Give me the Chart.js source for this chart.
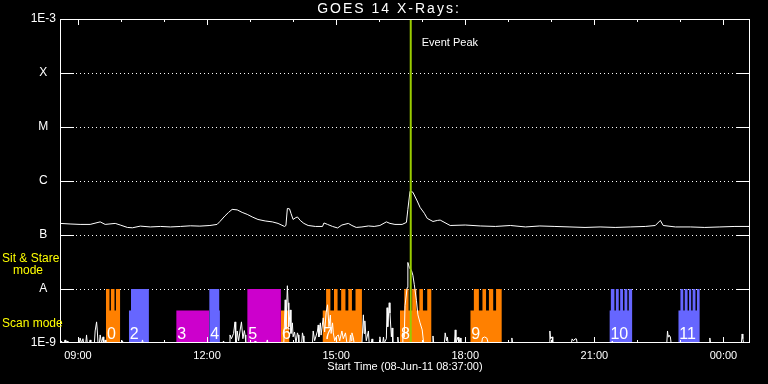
<!DOCTYPE html>
<html>
<head>
<meta charset="utf-8">
<script src="https://cdn.jsdelivr.net/npm/chart.js@4.4.1/dist/chart.umd.min.js"></script>
<style>
  html, body { margin: 0; padding: 0; background: #000; }
  canvas { display: block; }
</style>
</head>
<body>
<canvas id="goes" width="768" height="384"></canvas>
<script>
// GOES 14 X-ray flux with observing mode blocks
const startTime = '08:35';
const endTime = '24:37';
const hourTicks = [9, 12, 15, 18, 21, 24];
const decadeTicks = [1e-9, 1e-8, 1e-7, 1e-6, 1e-5, 1e-4, 1e-3];
const decadeNames = ['1E-9', 'A', 'B', 'C', 'M', 'X', '1E-3'];
const peakTime = '16:44';

// long channel flux (W/m^2)
const fluxTrace = [
  ['08:35', 1.64e-7], ['08:49', 1.6e-7], ['09:03', 1.57e-7], ['09:17', 1.57e-7], ['09:31', 1.75e-7],
  ['09:38', 1.57e-7], ['09:52', 1.64e-7], ['09:59', 1.53e-7], ['10:09', 1.38e-7], ['10:16', 1.36e-7],
  ['10:27', 1.46e-7], ['10:41', 1.41e-7], ['10:55', 1.44e-7], ['11:09', 1.41e-7], ['11:23', 1.44e-7],
  ['11:37', 1.48e-7], ['11:50', 1.46e-7], ['12:04', 1.5e-7], ['12:14', 1.57e-7], ['12:18', 1.78e-7],
  ['12:25', 2.26e-7], ['12:30', 2.62e-7], ['12:35', 2.98e-7], ['12:42', 2.92e-7], ['12:49', 2.62e-7],
  ['12:56', 2.41e-7], ['13:03', 2.16e-7], ['13:11', 1.94e-7], ['13:21', 1.82e-7], ['13:31', 1.75e-7],
  ['13:39', 1.64e-7], ['13:48', 1.44e-7], ['13:50', 1.5e-7], ['13:52', 3.1e-7], ['13:55', 3.05e-7],
  ['13:57', 2.52e-7], ['14:00', 1.94e-7], ['14:03', 2.07e-7], ['14:06', 2.16e-7], ['14:10', 1.86e-7],
  ['14:15', 1.64e-7], ['14:21', 1.5e-7], ['14:31', 1.44e-7], ['14:41', 1.44e-7], ['14:43', 1.67e-7],
  ['14:48', 1.57e-7], ['14:55', 1.44e-7], ['15:02', 1.35e-7], ['15:08', 1.53e-7], ['15:17', 1.64e-7],
  ['15:22', 1.5e-7], ['15:28', 1.38e-7], ['15:36', 1.41e-7], ['15:45', 1.47e-7], ['15:53', 1.44e-7],
  ['16:01', 1.5e-7], ['16:10', 1.75e-7], ['16:15', 1.64e-7], ['16:22', 1.57e-7], ['16:32', 1.57e-7],
  ['16:38', 1.71e-7], ['16:40', 2.98e-7], ['16:43', 6.46e-7], ['16:47', 6.2e-7], ['16:53', 4.26e-7],
  ['16:57', 3.25e-7], ['17:03', 2.52e-7], ['17:07', 2.03e-7], ['17:15', 1.78e-7], ['17:21', 1.86e-7],
  ['17:25', 1.89e-7], ['17:39', 1.5e-7], ['18:00', 1.53e-7], ['18:21', 1.47e-7], ['18:42', 1.44e-7],
  ['19:03', 1.5e-7], ['19:24', 1.41e-7], ['19:44', 1.47e-7], ['20:05', 1.44e-7], ['20:26', 1.41e-7],
  ['20:47', 1.38e-7], ['21:08', 1.41e-7], ['21:29', 1.38e-7], ['21:50', 1.41e-7], ['22:11', 1.44e-7],
  ['22:25', 1.5e-7], ['22:32', 1.86e-7], ['22:36', 1.5e-7], ['22:53', 1.41e-7], ['23:14', 1.41e-7],
  ['23:34', 1.38e-7], ['23:55', 1.41e-7], ['24:16', 1.44e-7], ['24:37', 1.44e-7]
];

// low-level trace sitting on the 1E-9 floor
const lowTrace = [
  ['08:36', 1e-9], ['08:37', 1.09e-9], ['08:38', 1e-9], ['08:41', 1e-9], ['08:42', 1.14e-9], ['08:43', 1e-9],
  ['08:45', 1.09e-9], ['08:46', 1e-9], ['09:02', 1e-9], ['09:03', 1.24e-9], ['09:05', 1e-9], ['09:07', 1.2e-9],
  ['09:08', 1e-9], ['09:11', 1e-9], ['09:12', 1.41e-9], ['09:13', 1e-9], ['09:16', 1e-9], ['09:17', 1.14e-9],
  ['09:18', 1e-9], ['09:23', 1e-9], ['09:24', 1.67e-9], ['09:26', 2.46e-9], ['09:27', 1.67e-9], ['09:28', 1e-9],
  ['09:30', 1e-9], ['09:31', 1.41e-9], ['09:33', 1e-9], ['09:35', 1.3e-9], ['09:36', 1e-9], ['09:37', 1e-9],
  ['09:38', 1.14e-9], ['09:39', 1e-9], ['10:01', 1e-9], ['10:02', 1.1e-9], ['10:03', 1e-9], ['10:29', 1e-9],
  ['10:30', 1.14e-9], ['10:31', 1e-9], ['12:22', 1e-9], ['12:23', 1.09e-9], ['12:24', 1e-9], ['12:31', 1e-9],
  ['12:32', 1.41e-9], ['12:34', 1.2e-9], ['12:37', 1.5e-9], ['12:39', 2.46e-9], ['12:40', 1e-9], ['12:41', 1e-9],
  ['12:42', 1.67e-9], ['12:44', 1.1e-9], ['12:46', 1.67e-9], ['12:48', 2.46e-9], ['12:50', 1.2e-9], ['12:52', 1.7e-9],
  ['12:53', 1.41e-9], ['12:54', 1e-9], ['13:06', 1e-9], ['13:07', 1.09e-9], ['13:08', 1e-9], ['13:23', 1e-9],
  ['13:24', 1.14e-9], ['13:25', 1e-9], ['13:47', 1e-9], ['13:49', 6.3e-9], ['13:50', 1.8e-9], ['13:52', 1.15e-8],
  ['13:53', 5.56e-9], ['13:54', 2e-9], ['13:56', 4.1e-9], ['13:57', 1.5e-9], ['13:59', 2.36e-9], ['14:00', 1.3e-9],
  ['14:02', 1.6e-9], ['14:04', 1e-9], ['14:06', 1.54e-9], ['14:07', 1.41e-9], ['14:08', 1e-9], ['14:12', 1e-9],
  ['14:13', 1.54e-9], ['14:14', 1.35e-9], ['14:15', 1e-9], ['14:27', 1e-9], ['14:28', 1.67e-9], ['14:30', 1.1e-9],
  ['14:34', 1.67e-9], ['14:35', 2.16e-9], ['14:36', 1.3e-9], ['14:38', 2.36e-9], ['14:39', 1.4e-9], ['14:42', 2.92e-9],
  ['14:44', 1.6e-9], ['14:46', 3.62e-9], ['14:48', 5.1e-9], ['14:50', 2e-9], ['14:52', 3.3e-9], ['14:53', 1.5e-9],
  ['14:55', 2.36e-9], ['14:56', 1.54e-9], ['14:58', 1.1e-9], ['15:00', 1.3e-9], ['15:03', 1.41e-9], ['15:05', 1.1e-9],
  ['15:08', 1.67e-9], ['15:10', 1.2e-9], ['15:13', 1.54e-9], ['15:15', 1e-9], ['15:19', 1e-9], ['15:20', 1.41e-9],
  ['15:21', 1.1e-9], ['15:22', 1.54e-9], ['15:24', 1.24e-9], ['15:25', 1e-9], ['15:36', 1e-9], ['15:38', 3.32e-9],
  ['15:39', 1.5e-9], ['15:40', 2.57e-9], ['15:42', 1.1e-9], ['15:45', 1.67e-9], ['15:46', 1e-9], ['15:49', 1e-9],
  ['15:50', 1.19e-9], ['15:51', 1e-9], ['16:00', 1e-9], ['16:01', 1.3e-9], ['16:02', 1e-9], ['16:05', 1e-9],
  ['16:06', 1.29e-9], ['16:07', 1e-9], ['16:10', 1.2e-9], ['16:11', 4.5e-9], ['16:12', 2e-9], ['16:14', 5.56e-9],
  ['16:15', 3.6e-9], ['16:17', 1.3e-9], ['16:18', 1.9e-9], ['16:19', 1e-9], ['16:25', 1e-9], ['16:26', 1.29e-9],
  ['16:27', 1e-9], ['16:32', 1e-9], ['16:33', 1.54e-9], ['16:35', 1.3e-9], ['16:36', 4.9e-9], ['16:39', 1.06e-8],
  ['16:40', 3.1e-8], ['16:42', 2.5e-8], ['16:45', 2.2e-8], ['16:47', 1.8e-8], ['16:49', 1.2e-8], ['16:52', 6.06e-9],
  ['16:54', 3.32e-9], ['16:57', 2.36e-9], ['17:00', 1.75e-9], ['17:01', 1.75e-9], ['17:02', 1e-9], ['17:14', 1e-9],
  ['17:15', 1.35e-9], ['17:16', 1e-9], ['17:31', 1e-9], ['17:32', 1.54e-9], ['17:34', 1.1e-9], ['17:35', 1.29e-9],
  ['17:36', 1e-9], ['17:45', 1e-9], ['17:46', 1.75e-9], ['17:47', 1e-9], ['17:50', 1.29e-9], ['17:51', 1e-9],
  ['17:53', 1.24e-9], ['17:54', 1e-9], ['18:23', 1e-9], ['18:24', 1.24e-9], ['18:27', 1.29e-9], ['18:30', 1.24e-9],
  ['18:32', 1e-9], ['19:04', 1e-9], ['19:05', 1.24e-9], ['19:06', 1e-9], ['19:57', 1e-9], ['19:58', 1.67e-9],
  ['19:59', 1.2e-9], ['20:01', 1.3e-9], ['20:02', 1e-9], ['20:28', 1e-9], ['20:29', 1.19e-9], ['20:31', 1.1e-9],
  ['20:33', 1.19e-9], ['20:35', 1.19e-9], ['20:36', 1e-9], ['21:24', 1e-9], ['21:25', 1.09e-9], ['21:26', 1e-9],
  ['22:41', 1e-9], ['22:42', 1.67e-9], ['22:43', 1.3e-9], ['22:44', 1.4e-9], ['22:46', 1.29e-9], ['22:47', 1e-9],
  ['23:40', 1e-9], ['23:41', 1.24e-9], ['23:42', 1e-9], ['24:25', 1e-9], ['24:26', 1.47e-9], ['24:27', 1.2e-9],
  ['24:28', 1e-9], ['24:37', 1e-9]
];

// observing blocks: each step level holds until the next time
const blockLabels = ['0', '2', '3', '4', '5', '6', '7', '8', '9', '10', '11'];
const blockKinds = ['orange', 'blue', 'magenta', 'blue', 'magenta', 'orange', 'orange', 'orange', 'orange', 'blue', 'blue'];
const blockSteps = [
  [['09:39', 1e-8], ['09:44', 4e-9], ['09:46', 1e-8], ['09:51', 4e-9], ['09:53', 1e-8], ['09:59', 1e-8]],
  [['10:11', 4e-9], ['10:14', 1e-8], ['10:39', 1e-8]],
  [['11:17', 4e-9], ['12:03', 4e-9]],
  [['12:03', 1e-8], ['12:17', 4e-9], ['12:18', 4e-9]],
  [['12:56', 1e-8], ['13:43', 1e-8]],
  [['13:43', 4e-9], ['13:55', 4e-9]],
  [['14:41', 4e-9], ['14:46', 1e-8], ['14:52', 4e-9], ['14:57', 1e-8], ['15:02', 4e-9], ['15:07', 1e-8],
   ['15:13', 4e-9], ['15:17', 1e-8], ['15:22', 4e-9], ['15:27', 1e-8], ['15:36', 1e-8]],
  [['16:29', 4e-9], ['16:35', 1e-8], ['16:41', 4e-9], ['16:46', 1e-8], ['16:52', 4e-9], ['16:56', 1e-8],
   ['17:01', 4e-9], ['17:07', 1e-8], ['17:13', 1e-8]],
  [['18:07', 4e-9], ['18:12', 1e-8], ['18:19', 4e-9], ['18:24', 1e-8], ['18:29', 4e-9], ['18:33', 1e-8],
   ['18:39', 4e-9], ['18:43', 1e-8], ['18:51', 1e-8]],
  [['21:21', 4e-9], ['21:23', 1e-8], ['21:28', 4e-9], ['21:30', 1e-8], ['21:34', 4e-9], ['21:36', 1e-8],
   ['21:40', 4e-9], ['21:42', 1e-8], ['21:46', 4e-9], ['21:48', 1e-8], ['21:53', 1e-8]],
  [['22:57', 4e-9], ['23:00', 1e-8], ['23:04', 4e-9], ['23:06', 1e-8], ['23:10', 4e-9], ['23:12', 1e-8],
   ['23:15', 4e-9], ['23:17', 1e-8], ['23:21', 4e-9], ['23:23', 1e-8], ['23:27', 1e-8]]
];

const kindColors = { orange: '#ff8000', blue: '#6666ff', magenta: '#cc00cc' };
const FONT = "'Liberation Sans', 'DejaVu Sans', sans-serif";

function hrs(t) {
  const [h, m] = t.split(':').map(Number);
  return h + m / 60;
}
function toPoints(list) {
  return list.map(([t, v]) => ({ x: hrs(t), y: v }));
}

const blockSets = blockSteps.map((steps, i) => ({
  data: toPoints(steps),
  stepped: true,
  fill: 'start',
  backgroundColor: kindColors[blockKinds[i]],
  borderColor: 'rgba(0,0,0,0)',
  borderWidth: 0,
  pointRadius: 0,
  order: 3
}));

const idlFrame = {
  id: 'idlFrame',
  beforeDraw(chart) {
    const ctx = chart.ctx;
    ctx.save();
    ctx.fillStyle = '#000';
    ctx.fillRect(0, 0, chart.width, chart.height);
    ctx.restore();
  },
  beforeDatasetsDraw(chart) {
    const { ctx, chartArea: a, scales: { y } } = chart;
    ctx.save();
    ctx.strokeStyle = '#fff';
    ctx.lineWidth = 1;
    decadeTicks.slice(1, -1).forEach(v => {
      const py = Math.round(y.getPixelForValue(v)) + 0.5;
      ctx.setLineDash([1, 3]);
      ctx.beginPath();
      ctx.moveTo(a.left + 16, py);
      ctx.lineTo(a.right - 14, py);
      ctx.stroke();
    });
    ctx.restore();
  },
  afterDatasetsDraw(chart) {
    const { ctx, chartArea: a, scales: { x, y } } = chart;
    ctx.save();
    ctx.strokeStyle = '#fff';
    ctx.lineWidth = 1;
    ctx.strokeRect(a.left + 0.5, a.top + 0.5, a.right - a.left - 1, a.bottom - a.top - 1);

    // y ticks on both sides
    decadeTicks.slice(1, -1).forEach(v => {
      const py = Math.round(y.getPixelForValue(v)) + 0.5;
      ctx.beginPath();
      ctx.moveTo(a.left, py); ctx.lineTo(a.left + 14, py);
      ctx.moveTo(a.right - 14, py); ctx.lineTo(a.right, py);
      ctx.stroke();
    });
    // hourly ticks top and bottom
    for (let h = 9; h <= 24; h++) {
      const px = Math.round(x.getPixelForValue(h)) + 0.5;
      const len = h % 3 === 0 ? 6 : 3;
      ctx.beginPath();
      ctx.moveTo(px, a.top); ctx.lineTo(px, a.top + len);
      ctx.moveTo(px, a.bottom); ctx.lineTo(px, a.bottom - len);
      ctx.stroke();
    }

    // block numbers
    ctx.fillStyle = '#fff';
    ctx.font = '16px ' + FONT;
    ctx.textAlign = 'left';
    ctx.textBaseline = 'alphabetic';
    blockSteps.forEach((steps, i) => {
      const px = x.getPixelForValue(hrs(steps[0][0]));
      ctx.fillText(blockLabels[i], px + 1, a.bottom - 4);
    });

    // title and annotations
    ctx.font = '14px ' + FONT;
    ctx.textAlign = 'center';
    ctx.textBaseline = 'middle';
    ctx.letterSpacing = '2px';
    ctx.fillText('GOES 14 X-Rays:', 389, 9);
    ctx.letterSpacing = '0px';

    ctx.font = '11px ' + FONT;
    ctx.textAlign = 'left';
    ctx.fillText('Event Peak', x.getPixelForValue(hrs(peakTime)) + 11, 43);

    ctx.fillStyle = '#ffff00';
    ctx.font = '12px ' + FONT;
    ctx.fillText('Sit & Stare', 2, 259);
    ctx.fillText('mode', 13, 271);
    ctx.fillText('Scan mode', 2, 324);
    ctx.restore();
  }
};

new Chart(document.getElementById('goes'), {
  type: 'line',
  data: {
    datasets: [
      {
        data: [{ x: hrs(peakTime), y: 1e-9 }, { x: hrs(peakTime), y: 1e-3 }],
        borderColor: '#99cc00',
        borderWidth: 2,
        pointRadius: 0,
        order: 0
      },
      {
        data: toPoints(fluxTrace),
        borderColor: '#fff',
        borderWidth: 1,
        pointRadius: 0,
        order: 1
      },
      {
        data: toPoints(lowTrace),
        borderColor: '#fff',
        borderWidth: 1,
        pointRadius: 0,
        order: 2
      },
      ...blockSets
    ]
  },
  options: {
    responsive: false,
    animation: false,
    devicePixelRatio: 1,
    events: [],
    layout: { padding: { top: 19, right: 18, left: 0, bottom: 0 } },
    plugins: { legend: { display: false }, tooltip: { enabled: false } },
    scales: {
      x: {
        type: 'linear',
        min: hrs(startTime),
        max: hrs(endTime),
        afterBuildTicks: s => { s.ticks = hourTicks.map(v => ({ value: v })); },
        afterFit: s => { s.height = 41; },
        grid: { display: false, drawTicks: false },
        border: { display: false },
        ticks: {
          color: '#fff',
          font: { family: FONT, size: 11 },
          padding: 6,
          maxRotation: 0,
          autoSkip: false,
          callback: v => String(v % 24).padStart(2, '0') + ':00'
        },
        title: {
          display: true,
          text: 'Start Time (08-Jun-11 08:37:00)',
          color: '#fff',
          font: { family: FONT, size: 11 },
          padding: { top: 0, bottom: 10 }
        }
      },
      y: {
        type: 'logarithmic',
        min: 1e-9,
        max: 1e-3,
        afterBuildTicks: s => { s.ticks = decadeTicks.map(v => ({ value: v })); },
        afterFit: s => { s.width = 60; },
        grid: { display: false, drawTicks: false },
        border: { display: false },
        ticks: {
          color: '#fff',
          font: { family: FONT, size: 12 },
          crossAlign: 'center',
          padding: 4,
          autoSkip: false,
          callback: (v, i) => decadeNames[i]
        }
      }
    }
  },
  plugins: [idlFrame]
});
</script>
</body>
</html>
